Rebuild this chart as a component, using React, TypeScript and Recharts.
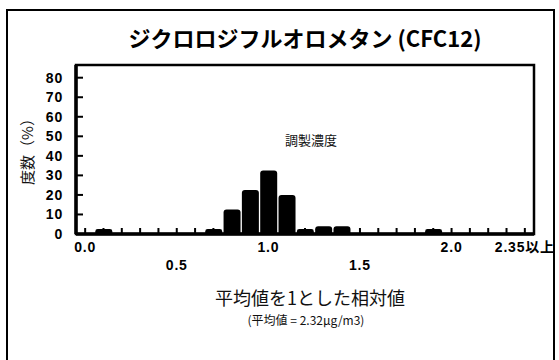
import { BarChart, Bar, XAxis, YAxis, ReferenceArea } from "recharts";

// 階級（平均値を1とした相対値、0.1刻み）
const categories = [
  "0.0", "0.1", "0.2", "0.3", "0.4", "0.5", "0.6", "0.7", "0.8", "0.9",
  "1.0", "1.1", "1.2", "1.3", "1.4", "1.5", "1.6", "1.7", "1.8", "1.9",
  "2.0", "2.1", "2.2", "2.3", "2.35以上",
];

// 度数（%）
const frequency = [
  0, 2.5, 0, 0, 0, 0, 0, 2.5, 12.5, 22.5,
  32.5, 20, 2.5, 4, 4, 0, 0, 0, 0, 2.5,
  0, 0, 0, 0, 0,
];

const yTicks = [0, 10, 20, 30, 40, 50, 60, 70, 80];

// 表示するX軸ラベル（0:上段, 1:下段）
const xLabelRow: Record<string, number> = {
  "0.0": 0,
  "0.5": 1,
  "1.0": 0,
  "1.5": 1,
  "2.0": 0,
  "2.35以上": 0,
};

const data = categories.map((c, i) => ({ name: c, value: frequency[i] }));

const tickFont = "'Liberation Sans', Arial, 'Noto Sans CJK JP', sans-serif";
const jpFont = "'Noto Sans CJK JP', sans-serif";

function XTick({ x, y, payload }: any) {
  const row = xLabelRow[payload.value];
  if (row === undefined) return null;
  return (
    <text x={x} y={y + (row ? 42 : 24)} textAnchor="middle" fontFamily={tickFont} fontWeight="bold" fontSize={14} letterSpacing={0.8} fill="#000">
      {payload.value}
    </text>
  );
}

export default function App() {
  return (
    <div style={{ position: "absolute", left: 0, top: 0, width: 559, height: 360, overflow: "hidden", background: "#fff" }}>
      {/* 外枠（下辺は画面外） */}
      <div
        style={{
          position: "absolute",
          left: 6,
          top: 9,
          width: 545,
          height: 400,
          border: "2px solid #000",
        }}
      />
      <div style={{ position: "absolute", left: 0, top: 0 }}>
        <BarChart width={559} height={360} data={data} margin={{ top: 65, right: 25, left: 0, bottom: 86 }}>
          {/* プロット枠 */}
          <ReferenceArea x1="0.0" x2="2.35以上" y1={0} y2={86.5} fill="none" stroke="#000" strokeWidth={2.5} ifOverflow="visible" />
          <XAxis
            dataKey="name"
            interval={0}
            height={40}
            tickSize={-6}
            tickMargin={0}
            axisLine={{ stroke: "#000", strokeWidth: 3.5 }}
            tickLine={{ stroke: "#000", strokeWidth: 2 }}
            tick={<XTick />}
          />
          <YAxis
            width={76}
            domain={[0, 86.5]}
            ticks={yTicks}
            interval={0}
            tickSize={-7}
            tickMargin={20}
            axisLine={{ stroke: "#000", strokeWidth: 3.5 }}
            tickLine={{ stroke: "#000", strokeWidth: 2 }}
            tick={{ fill: "#000", fontFamily: tickFont, fontWeight: "bold", fontSize: 14, letterSpacing: 0.8 }}
          />
          <Bar dataKey="value" fill="#000" barSize={17} radius={[3, 3, 0, 0]} isAnimationActive={false} />
        </BarChart>
      </div>
      <svg width={559} height={360} style={{ position: "absolute", left: 0, top: 0, pointerEvents: "none" }}>
        <text x={305} y={36.5} textAnchor="middle" dominantBaseline="central" fontFamily={jpFont} fontWeight="bold" fontSize={22} fill="#000">
          ジクロロジフルオロメタン (CFC12)
        </text>
        <text x={311} y={139} textAnchor="middle" dominantBaseline="central" fontFamily={jpFont} fontSize={13} fill="#111">
          調製濃度
        </text>
        <text x={26} y={148} textAnchor="middle" dominantBaseline="central" transform="rotate(-90 26 148)" fontFamily={jpFont} fontSize={15} fill="#111">
          度数（%）
        </text>
        <text x={310} y={297} textAnchor="middle" dominantBaseline="central" fontFamily={jpFont} fontSize={18} fill="#111">
          平均値を1とした相対値
        </text>
        <text x={306} y={319} textAnchor="middle" dominantBaseline="central" fontFamily={jpFont} fontSize={12} fill="#111">
          (平均値 = 2.32μg/m3)
        </text>
      </svg>
    </div>
  );
}
